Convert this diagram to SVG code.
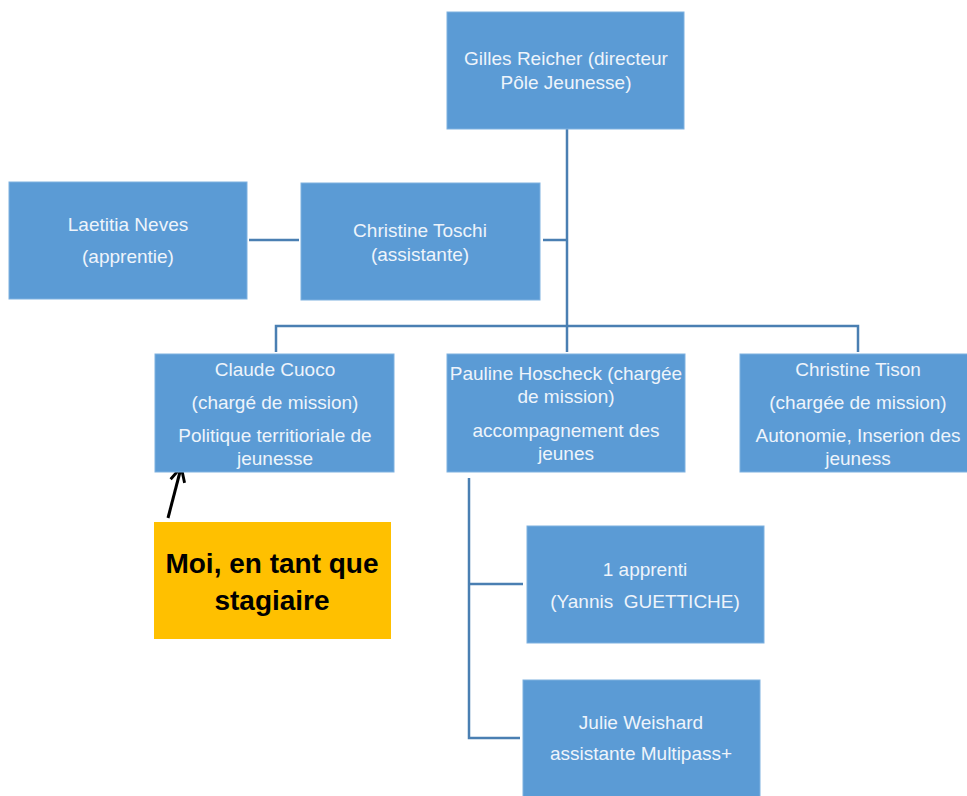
<svg xmlns="http://www.w3.org/2000/svg" width="967" height="796" viewBox="0 0 967 796">
<defs>
<style>
.box{fill:#5b9bd5;stroke:#7eb1e0;stroke-width:1}
.t{font-family:"Liberation Sans",Arial,sans-serif;font-size:19px;fill:#eef4fb;text-anchor:middle;white-space:pre}
.c{fill:none;stroke:#4a7fb2;stroke-width:2.5}
.b{font-family:"Liberation Sans",Arial,sans-serif;font-size:28px;font-weight:bold;fill:#000;text-anchor:middle}
</style>
<marker id="ah" viewBox="0 0 10 10" refX="8.5" refY="5" markerWidth="6" markerHeight="6" orient="auto"><path d="M1,1 L9,5 L1,9" fill="none" stroke="#000" stroke-width="1.6"/></marker>
</defs>
<rect width="967" height="796" fill="#fff"/>
<g id="connectors">
<line class="c" x1="567" y1="129" x2="567" y2="352"/>
<line class="c" x1="543" y1="240" x2="567" y2="240"/>
<line class="c" x1="249" y1="240" x2="299" y2="240"/>
<polyline class="c" points="276,352 276,326 858,326 858,352"/>
<polyline class="c" points="469,478 469,738 520,738"/>
<line class="c" x1="469" y1="584" x2="523" y2="584"/>
<line x1="168" y1="518" x2="181" y2="468" stroke="#000" stroke-width="3" marker-end="url(#ah)"/>
</g>
<g id="gilles"><rect class="box" x="447" y="12" width="237" height="117"/><text class="t" x="566" y="65">Gilles Reicher (directeur</text><text class="t" x="566" y="89">Pôle Jeunesse)</text></g>
<g id="laetitia"><rect class="box" x="9" y="182" width="238" height="117"/><text class="t" x="128" y="231">Laetitia Neves</text><text class="t" x="128" y="263">(apprentie)</text></g>
<g id="toschi"><rect class="box" x="301" y="183" width="239" height="117"/><text class="t" x="420" y="237">Christine Toschi</text><text class="t" x="420" y="261">(assistante)</text></g>
<g id="cuoco"><rect class="box" x="155" y="354" width="239" height="118"/><text class="t" x="275" y="376">Claude Cuoco</text><text class="t" x="275" y="409">(chargé de mission)</text><text class="t" x="275" y="442">Politique territioriale de</text><text class="t" x="275" y="465">jeunesse</text></g>
<g id="hoscheck"><rect class="box" x="447" y="354" width="238" height="118"/><text class="t" x="566" y="380">Pauline Hoscheck (chargée</text><text class="t" x="566" y="403">de mission)</text><text class="t" x="566" y="437">accompagnement des</text><text class="t" x="566" y="460">jeunes</text></g>
<g id="tison"><rect class="box" x="740" y="354" width="230" height="118"/><text class="t" x="858" y="376">Christine Tison</text><text class="t" x="858" y="409">(chargée de mission)</text><text class="t" x="858" y="442">Autonomie, Inserion des</text><text class="t" x="858" y="465">jeuness</text></g>
<g id="apprenti"><rect class="box" x="527" y="526" width="237" height="117"/><text class="t" x="645" y="576">1 apprenti</text><text class="t" x="645" y="608">(Yannis  GUETTICHE)</text></g>
<g id="weishard"><rect class="box" x="523" y="680" width="237" height="120"/><text class="t" x="641" y="729">Julie Weishard</text><text class="t" x="641" y="760">assistante Multipass+</text></g>
<g id="stagiaire"><rect x="154" y="522" width="237" height="117" fill="#ffc000"/><text class="b" x="272" y="573">Moi, en tant que</text><text class="b" x="272" y="610">stagiaire</text></g>
</svg>
